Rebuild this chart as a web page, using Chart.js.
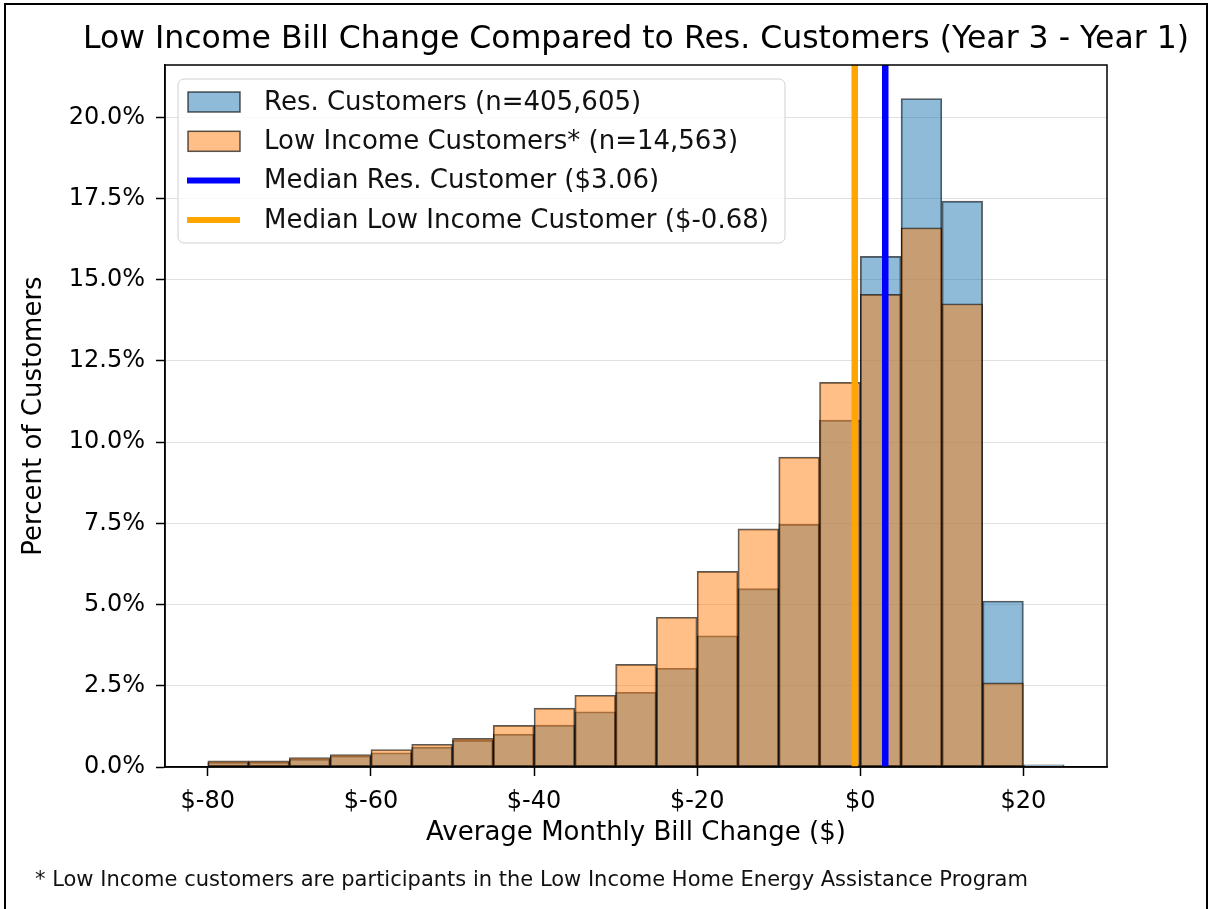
<!DOCTYPE html>
<html>
<head>
<meta charset="utf-8">
<title>Low Income Bill Change</title>
<script src="https://cdn.jsdelivr.net/npm/chart.js@4.4.1/dist/chart.umd.min.js"></script>
<style>
  html, body { margin: 0; padding: 0; background: #fff; }
  #wrap { width: 1208px; height: 909px; position: relative; }
</style>
</head>
<body>
<div id="wrap"><canvas id="graph"></canvas></div>
<script>
// $5 bins, left edge of each bin
const binStarts = [-80, -75, -70, -65, -60, -55, -50, -45, -40, -35, -30,
                   -25, -20, -15, -10, -5, 0, 5, 10, 15, 20];
const binWidth = 5;

// percent of customers in each bin
const resPercent = [0.15, 0.15, 0.24, 0.34, 0.44, 0.61, 0.82, 1.01, 1.29, 1.70, 2.30,
                    3.04, 4.04, 5.49, 7.47, 10.68, 15.72, 20.58, 17.42, 5.11, 0.07];
const lowIncomePercent = [0.19, 0.19, 0.29, 0.38, 0.54, 0.70, 0.88, 1.28, 1.81, 2.21, 3.16,
                          4.61, 6.02, 7.33, 9.54, 11.84, 14.55, 16.60, 14.26, 2.59, 0.02];

const medianRes = 3.06;
const medianLowIncome = -0.68;

const xTicks = [-80, -60, -40, -20, 0, 20];
const yTicks = [0, 2.5, 5, 7.5, 10, 12.5, 15, 17.5, 20];
const xMin = -85.25;
const xMax = 30.25;
const yMax = 21.61;

const chartTitle = 'Low Income Bill Change Compared to Res. Customers (Year 3 - Year 1)';
const resLabel = 'Res. Customers (n=405,605)';
const lowIncomeLabel = 'Low Income Customers* (n=14,563)';
const medianResLabel = 'Median Res. Customer ($3.06)';
const medianLowIncomeLabel = 'Median Low Income Customer ($-0.68)';
const footnote = '* Low Income customers are participants in the Low Income Home Energy Assistance Program';

const FONT = 'DejaVu Sans';
Chart.defaults.font.family = FONT;
Chart.defaults.color = '#000';

function histPoints(values) {
    return binStarts.map((start, i) => ({ x: start + binWidth / 2, y: values[i] }));
}

function medianPoints(value) {
    return [{ x: value, y: 0 }, { x: value, y: yMax }];
}

// title centred over the axes, axes box, legend inside the plot, footnote and page frame
const extras = {
    id: 'extras',
    afterDatasetsDraw(chart) {
        const { ctx, chartArea: a } = chart;
        ctx.save();
        ctx.strokeStyle = '#000';
        ctx.lineWidth = 1.5;
        ctx.strokeRect(a.left, a.top, a.right - a.left, a.bottom - a.top);

        const bx = a.left + 13, by = a.top + 14, bw = 607, bh = 164;
        ctx.beginPath();
        ctx.roundRect(bx, by, bw, bh, 6);
        ctx.fillStyle = 'rgba(255,255,255,0.8)';
        ctx.fill();
        ctx.strokeStyle = '#d0d0d0';
        ctx.lineWidth = 1;
        ctx.stroke();

        ctx.font = '26px "' + FONT + '"';
        ctx.textBaseline = 'middle';
        ctx.textAlign = 'left';
        chart.data.datasets.forEach((ds, i) => {
            const cy = by + 23 + i * 39.3;
            if (ds.type === 'line') {
                ctx.strokeStyle = ds.borderColor;
                ctx.lineWidth = 6;
                ctx.beginPath();
                ctx.moveTo(bx + 9, cy);
                ctx.lineTo(bx + 62, cy);
                ctx.stroke();
            } else {
                ctx.fillStyle = ds.backgroundColor;
                ctx.fillRect(bx + 10, cy - 10, 52, 20);
                ctx.strokeStyle = ds.borderColor;
                ctx.lineWidth = 1.5;
                ctx.strokeRect(bx + 10, cy - 10, 52, 20);
            }
            ctx.fillStyle = '#111';
            ctx.fillText(ds.label, bx + 86, cy + 1);
        });
        ctx.restore();
    },
    afterDraw(chart) {
        const { ctx, chartArea: a } = chart;
        ctx.save();
        ctx.fillStyle = '#000';
        ctx.textBaseline = 'middle';
        ctx.textAlign = 'center';
        ctx.font = '31.5px "' + FONT + '"';
        ctx.fillText(chartTitle, (a.left + a.right) / 2, 40);

        ctx.textAlign = 'left';
        ctx.fillStyle = '#111';
        ctx.font = '21px "' + FONT + '"';
        ctx.fillText(footnote, 35, 881);

        ctx.strokeStyle = '#000';
        ctx.lineWidth = 2;
        ctx.strokeRect(5, 4, 1202, 930);
        ctx.restore();
    }
};

const barStyle = {
    borderColor: 'rgba(0,0,0,0.65)',
    borderWidth: 1.25,
    borderSkipped: false,
    grouped: false,
    barPercentage: 1,
    categoryPercentage: 1
};

new Chart(document.getElementById('graph'), {
    type: 'bar',
    data: {
        datasets: [
            {
                ...barStyle,
                label: resLabel,
                data: histPoints(resPercent),
                backgroundColor: 'rgba(31,119,180,0.5)',
                order: 4
            },
            {
                ...barStyle,
                label: lowIncomeLabel,
                data: histPoints(lowIncomePercent),
                backgroundColor: 'rgba(255,127,14,0.5)',
                order: 3
            },
            {
                type: 'line',
                label: medianResLabel,
                data: medianPoints(medianRes),
                borderColor: 'blue',
                borderWidth: 6.5,
                pointRadius: 0,
                order: 2
            },
            {
                type: 'line',
                label: medianLowIncomeLabel,
                data: medianPoints(medianLowIncome),
                borderColor: 'orange',
                borderWidth: 6.5,
                pointRadius: 0,
                order: 1
            }
        ]
    },
    options: {
        responsive: true,
        maintainAspectRatio: false,
        animation: false,
        events: [],
        layout: { padding: { left: 0, right: 101, top: 65, bottom: 0 } },
        plugins: {
            legend: { display: false },
            tooltip: { enabled: false },
            title: { display: false }
        },
        scales: {
            x: {
                type: 'linear',
                min: xMin,
                max: xMax,
                offset: false,
                afterFit(scale) { scale.height = 142; },
                afterBuildTicks(scale) { scale.ticks = xTicks.map(v => ({ value: v })); },
                ticks: {
                    font: { size: 24 },
                    color: '#000',
                    padding: 11,
                    maxRotation: 0,
                    callback: v => '$' + v
                },
                grid: {
                    offset: false,
                    drawOnChartArea: false,
                    tickLength: 9,
                    tickColor: '#000',
                    tickWidth: 1.5
                },
                border: { color: '#000', width: 1.5 },
                title: {
                    display: true,
                    text: 'Average Monthly Bill Change ($)',
                    font: { size: 26 },
                    color: '#000',
                    padding: { top: 4, bottom: 60 }
                }
            },
            y: {
                min: 0,
                max: yMax,
                afterFit(scale) { scale.width = 165; },
                afterBuildTicks(scale) { scale.ticks = yTicks.map(v => ({ value: v })); },
                ticks: {
                    font: { size: 24 },
                    color: '#000',
                    padding: 11,
                    callback: v => v.toFixed(1) + '%'
                },
                grid: {
                    color: 'rgba(0,0,0,0.12)',
                    lineWidth: 1,
                    tickLength: 9,
                    tickColor: '#000',
                    tickWidth: 1.5
                },
                border: { color: '#000', width: 1.5 },
                title: {
                    display: true,
                    text: 'Percent of Customers',
                    font: { size: 26 },
                    color: '#000',
                    padding: { top: 19, bottom: 4 }
                }
            }
        }
    },
    plugins: [extras]
});
</script>
</body>
</html>
